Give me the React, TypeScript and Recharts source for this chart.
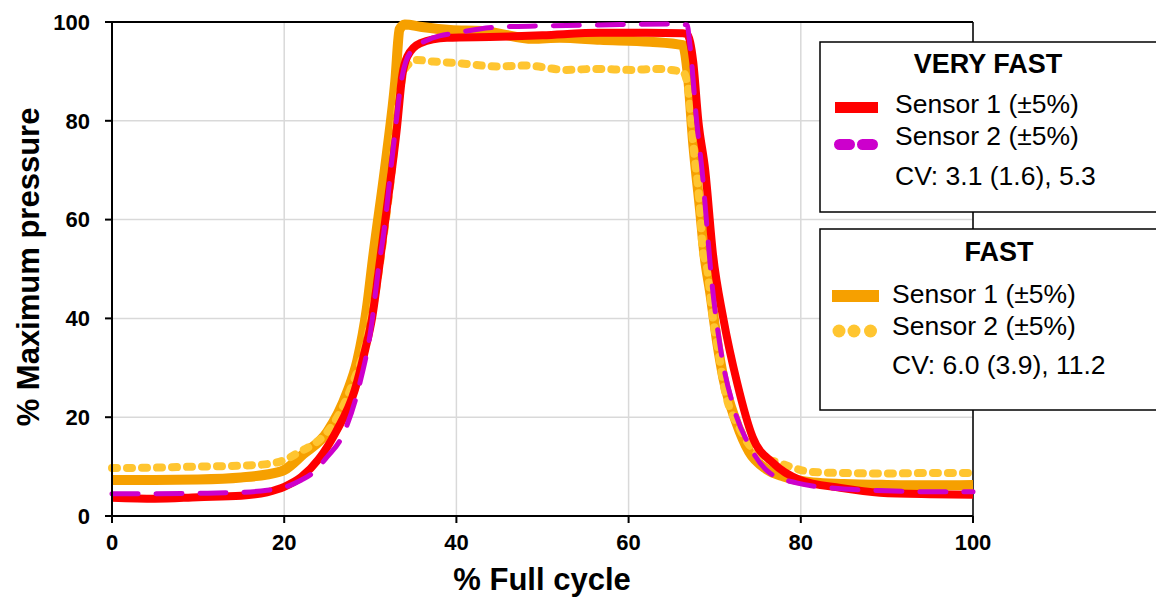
import React from "react";
import {
  LineChart,
  Line,
  XAxis,
  YAxis,
  CartesianGrid,
  ReferenceLine,
} from "recharts";

// Very fast, sensor 1
const veryFastS1Cycle = [0, 5, 10, 15, 18, 20, 22, 24, 26, 28.2, 29.4, 30.2, 31, 31.9, 33.1, 33.7, 34.3, 35.8, 38.9, 45, 50, 56.7, 62, 66.3, 66.8, 67.5, 68.1, 68.9, 69.8, 71, 72.6, 74.4, 76.8, 79.9, 84.6, 89.2, 95, 100];
const veryFastS1Pressure = [3.7, 3.5, 3.8, 4.1, 4.8, 5.9, 7.9, 11.5, 17, 25.5, 33.6, 40, 50, 62, 78.7, 89, 93, 95.7, 96.8, 97, 97.3, 97.8, 97.8, 97.7, 97.5, 92, 80, 70, 53, 40, 27, 16, 10.7, 7.3, 5.7, 4.7, 4.4, 4.3];

// Very fast, sensor 2
const veryFastS2Cycle = [0, 5, 10, 15, 18, 20, 22, 23.3, 25, 26.7, 28.8, 30, 31.1, 31.5, 32.6, 33.7, 34.6, 37.3, 40, 45, 50, 56.7, 64.5, 66.8, 67.1, 67.9, 68.6, 69.2, 69.5, 70.7, 72.2, 74.1, 76.4, 79.5, 83.4, 90, 95, 100];
const veryFastS2Pressure = [4.5, 4.5, 4.6, 4.8, 5.2, 5.8, 7.3, 8.7, 12, 16, 27, 37, 52, 56.5, 73.5, 89, 93.7, 96.8, 97.8, 99, 99.2, 99.4, 99.6, 99.4, 95.7, 80, 68.7, 56.5, 50.4, 33.6, 22, 14, 8.7, 6.7, 5.7, 5.1, 4.9, 4.9];

// Fast, sensor 1
const fastS1Cycle = [0, 5, 10, 15, 18, 20, 22.2, 25, 27.3, 28.5, 29.6, 30.3, 31.9, 32.9, 33.4, 34, 36, 39.3, 43, 48.9, 52, 56.7, 62.5, 66.3, 66.9, 67.5, 68.3, 68.8, 69.5, 70.3, 71, 72.5, 74, 76, 78, 81.4, 85, 90, 95, 100];
const fastS1Pressure = [7.3, 7.3, 7.4, 7.8, 8.4, 9.3, 12.5, 17, 25, 31.5, 42, 52, 73, 88, 98.5, 99.5, 99, 98.4, 98.2, 96.6, 96.8, 96.4, 96, 95.3, 89, 75.5, 62, 53, 45, 35, 28, 19, 13, 9.5, 8, 6.8, 6.5, 6.3, 6.2, 6.3];

// Fast, sensor 2
const fastS2Cycle = [0, 5, 10, 15, 18, 20, 21.8, 23.8, 25, 26.5, 28, 29.5, 30.5, 31.5, 32.5, 33.3, 34, 35.4, 37.3, 40, 45, 48, 52.8, 56, 60.5, 63, 66.3, 66.9, 67.5, 68.3, 68.6, 69.1, 69.8, 70.4, 71, 73, 74.9, 77.6, 81.4, 85, 90, 95, 100];
const fastS2Pressure = [9.7, 9.8, 10, 10.2, 10.5, 11.3, 13, 15, 17, 21, 27, 35, 44, 56, 70, 84, 90.5, 92.3, 92, 91.7, 91, 91.2, 90.3, 90.5, 90.3, 90.5, 89.9, 86.8, 75.5, 62, 54, 50.4, 40, 33.6, 27, 17.4, 12.7, 10.7, 8.9, 8.7, 8.6, 8.7, 8.7];

const axisTicks = [0, 20, 40, 60, 80, 100];

const RED = "#FF0000";
const MAGENTA = "#CC00CC";
const ORANGE = "#F6A000";
const YELLOW = "#FFC530";
const FONT = "'Liberation Sans', Arial, sans-serif";

const toPoints = (xs: number[], ys: number[]) =>
  xs.map((x, i) => ({ x, y: ys[i] }));

const tickStyle = { fontSize: 22, fontWeight: 700, fill: "#000", fontFamily: FONT };

function LegendOverlay() {
  return (
    <svg
      width={1156}
      height={599}
      style={{ position: "absolute", left: 0, top: 0, pointerEvents: "none" }}
      fontFamily={FONT}
    >
      {/* axis titles */}
      <text
        x={0}
        y={0}
        transform="translate(39 267) rotate(-90)"
        textAnchor="middle"
        fontSize={31}
        fontWeight={700}
        fill="#000"
      >
        % Maximum pressure
      </text>
      <text x={542} y={590} textAnchor="middle" fontSize={31} fontWeight={700} fill="#000">
        % Full cycle
      </text>

      {/* very fast box */}
      <rect x={820} y={42} width={360} height={170} fill="#fff" stroke="#000" strokeWidth={1.5} />
      <text x={988} y={73} textAnchor="middle" fontSize={27} fontWeight={700}>VERY FAST</text>
      <rect x={835} y={102} width={43} height={11} fill={RED} />
      <text x={895} y={113} fontSize={26.5}>Sensor 1 (±5%)</text>
      <line x1={839.5} x2={873.5} y1={144.5} y2={144.5} stroke={MAGENTA} strokeWidth={11} strokeDasharray="10 13" strokeLinecap="round" />
      <text x={895} y={145} fontSize={26.5}>Sensor 2 (±5%)</text>
      <text x={895} y={185} fontSize={26.5}>CV: 3.1 (1.6), 5.3</text>

      {/* fast box */}
      <rect x={820} y={229} width={360} height={181} fill="#fff" stroke="#000" strokeWidth={1.5} />
      <text x={999} y={261} textAnchor="middle" fontSize={27} fontWeight={700}>FAST</text>
      <rect x={832} y={290} width={47} height={12} fill={ORANGE} />
      <text x={892} y={303} fontSize={26.5}>Sensor 1 (±5%)</text>
      <circle cx={839} cy={331} r={6.5} fill={YELLOW} />
      <circle cx={854} cy={331} r={6.5} fill={YELLOW} />
      <circle cx={870.5} cy={331} r={6.5} fill={YELLOW} />
      <text x={892} y={335} fontSize={26.5}>Sensor 2 (±5%)</text>
      <text x={892} y={374} fontSize={26.5}>CV: 6.0 (3.9), 11.2</text>
    </svg>
  );
}

export default function App() {
  return (
    <div style={{ position: "absolute", left: 0, top: 0, width: 1156, height: 599, background: "#fff" }}>
      <LineChart
        width={1156}
        height={599}
        margin={{ top: 22, right: 183, bottom: 53, left: 52 }}
      >
        <CartesianGrid stroke="#d9d9d9" strokeWidth={1.5} />
        <XAxis
          type="number"
          dataKey="x"
          domain={[0, 100]}
          ticks={axisTicks}
          height={30}
          stroke="#000"
          strokeWidth={2}
          tickSize={7}
          tickMargin={11}
          tick={tickStyle}
          allowDuplicatedCategory={false}
        />
        <YAxis
          type="number"
          domain={[0, 100]}
          ticks={axisTicks}
          width={60}
          stroke="#000"
          strokeWidth={2}
          tickSize={7}
          tickMargin={15}
          tick={tickStyle}
        />
        <ReferenceLine y={100} stroke="#000" strokeWidth={2} />
        <ReferenceLine x={100} stroke="#000" strokeWidth={1.5} />
        <Line
          data={toPoints(fastS1Cycle, fastS1Pressure)}
          dataKey="y"
          type="monotone"
          stroke={ORANGE}
          strokeWidth={10}
          dot={false}
          isAnimationActive={false}
        />
        <Line
          data={toPoints(fastS2Cycle, fastS2Pressure)}
          dataKey="y"
          type="monotone"
          stroke={YELLOW}
          strokeWidth={8}
          strokeDasharray="5 10"
          strokeLinecap="round"
          dot={false}
          isAnimationActive={false}
        />
        <Line
          data={toPoints(veryFastS1Cycle, veryFastS1Pressure)}
          dataKey="y"
          type="monotone"
          stroke={RED}
          strokeWidth={8}
          dot={false}
          isAnimationActive={false}
        />
        <Line
          data={toPoints(veryFastS2Cycle, veryFastS2Pressure)}
          dataKey="y"
          type="monotone"
          stroke={MAGENTA}
          strokeWidth={5}
          strokeDasharray="26 18"
          strokeLinecap="round"
          dot={false}
          isAnimationActive={false}
        />
      </LineChart>
      <LegendOverlay />
    </div>
  );
}
